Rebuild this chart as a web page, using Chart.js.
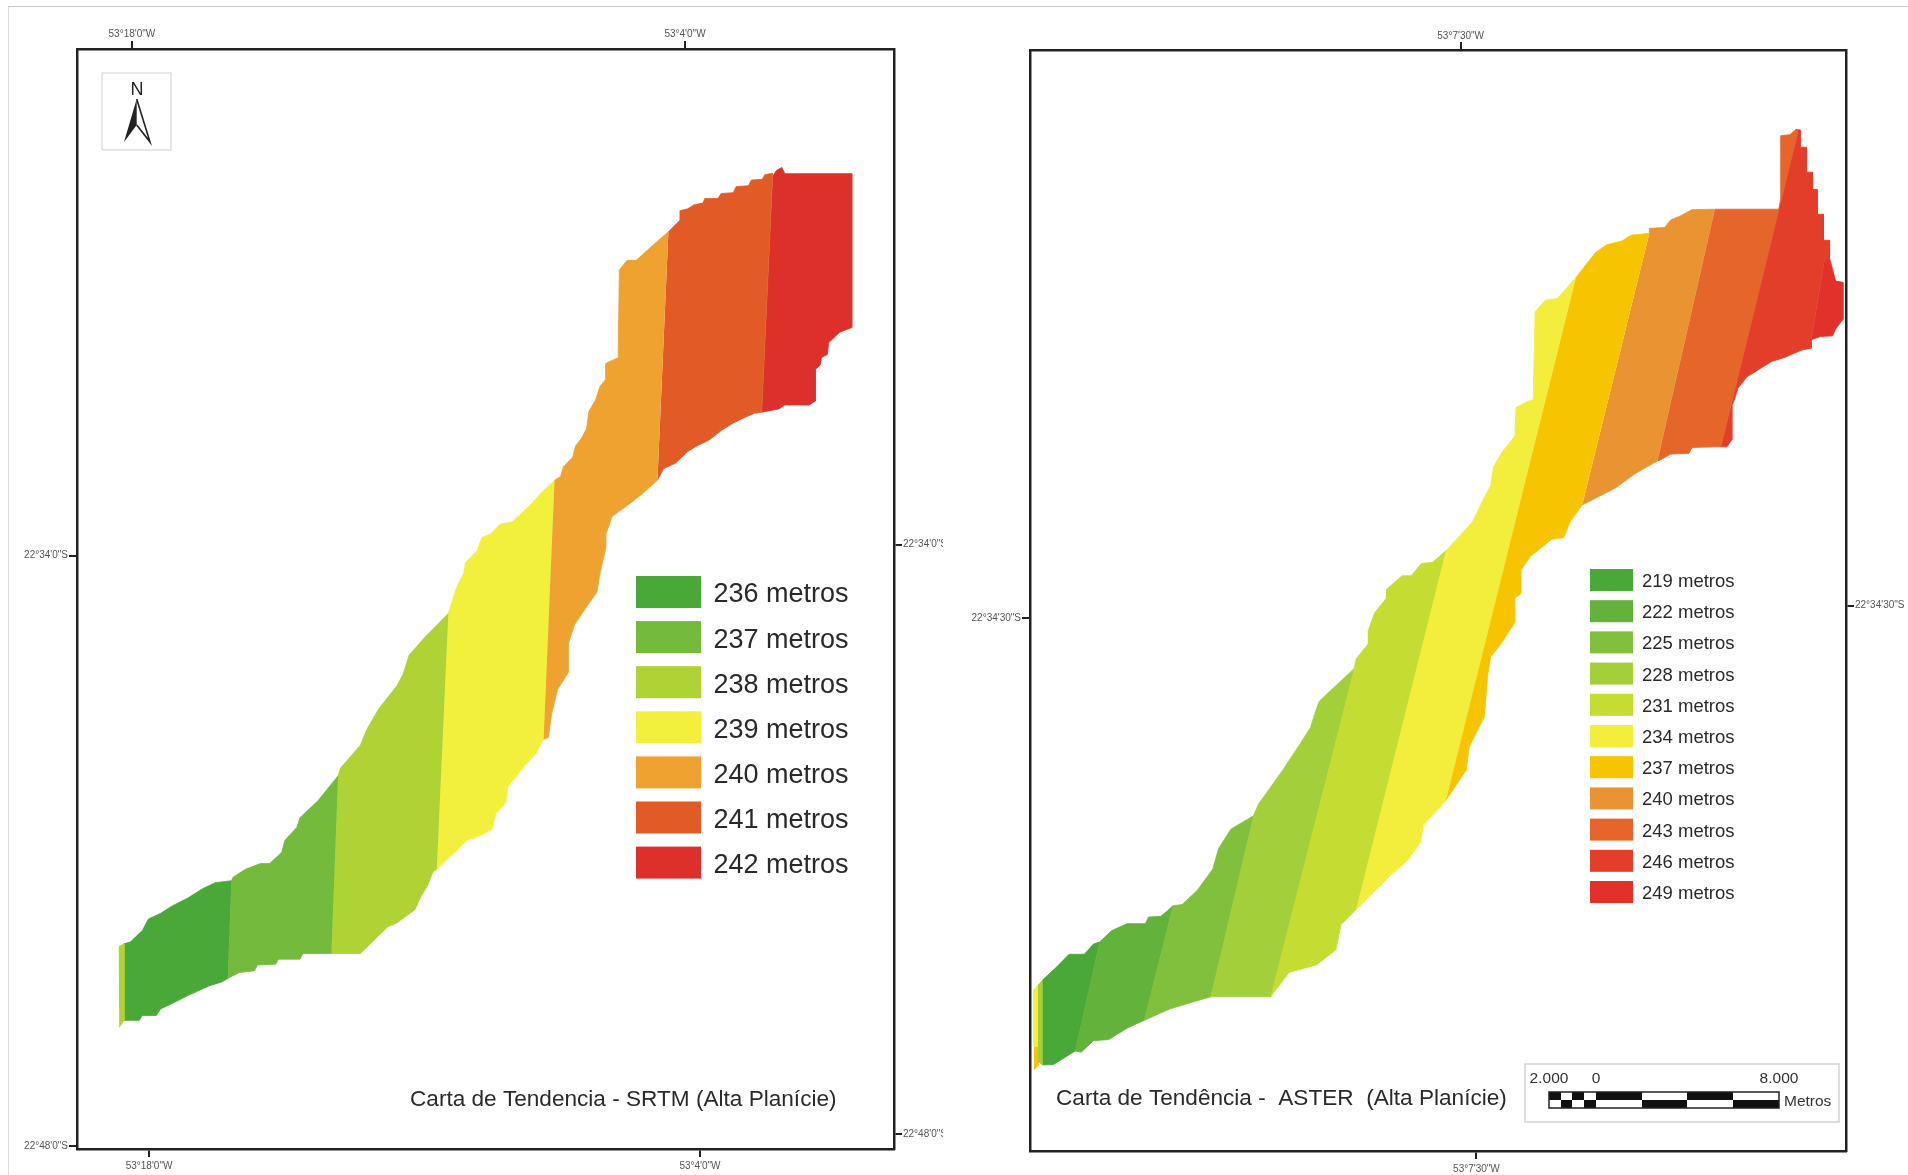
<!DOCTYPE html>
<html lang="pt">
<head>
<meta charset="utf-8">
<title>Carta de Tendencia</title>
<script src="https://cdn.jsdelivr.net/npm/chart.js@4/dist/chart.umd.min.js"></script>
<style>
  body { margin: 0; background: #fff; overflow: hidden; }
  canvas { position: absolute; top: 0; }
  #sheet { position: absolute; left: 8px; top: 6px; right: 0; bottom: 0; border-top: 1px solid #c8c8c8; border-left: 1px solid #dcdcdc; }
  #srtmChart { left: 0; }
  #asterChart { left: 943px; }
</style>
</head>
<body>
<div id="sheet"></div>
<canvas id="srtmChart" width="943" height="1175"></canvas>
<canvas id="asterChart" width="965" height="1175"></canvas>
<script>
"use strict";

// SRTM map: one outline per elevation class, in map grid units
const srtm236 = [[190.2,724],[176.8,725.6],[166.8,730.4],[154.4,738.2],[141.9,744.5],[132,750.8],[122,755.5],[117,765],[107,774.4],[102,775.9],[102,838.8],[114.5,838.8],[117,834.8],[128.5,834.8],[132,829.4],[142,824.7],[154.4,818.4],[171.8,810.5],[181.8,807.4],[187.2,804.3]];
const srtm237 = [[277.9,637.6],[261.5,658],[246.5,672.2],[244,680],[234,691],[231.6,700.5],[221.6,709.9],[214,709.9],[201.7,714.6],[191.7,721],[190.2,724],[187.2,804.3],[196.7,799.5],[209.2,798],[211.7,793.3],[226.6,792.6],[229,788.5],[246.5,788.5],[249,783.8],[272.4,783.8]];
const srtm238 = [[368.5,504],[361,511.8],[348.6,524.4],[336.2,538.5],[331.2,554.3],[326.2,563.7],[311.3,582.6],[301.3,599.9],[296.3,612.4],[279.9,631.3],[277.9,637.6],[272.4,783.8],[296.3,783.8],[318.7,761.8],[326.2,758.7],[341.1,747.7],[346,736.7],[351,728.8],[356,716.2],[359,714.6]];
const srtm239 = [[455.7,394.7],[445.7,404],[435.8,415],[420.8,429],[410.9,430.8],[403.4,438.7],[396,441.8],[392,452.8],[382.5,462.3],[381,471.7],[376,481],[373.5,488.2],[368.5,504],[359,714.6],[383.5,691],[396,686.3],[404.4,681.6],[407.4,669],[415.8,659.6],[417.3,647],[428.3,632.9],[440.7,618.7],[446.7,607.7]];
const srtm240 = [[549.3,190.3],[540.3,198],[522.9,213.8],[515.4,213.8],[509,221.7],[508,294],[500.5,297.2],[498,298.7],[498,311.3],[493,317.6],[489.5,328.6],[484,338],[482,352.2],[478,360],[473,366.4],[470.6,375.8],[463,383.6],[460.7,391.5],[455.7,394.7],[446.7,607.7],[450.7,606.1],[453.2,587.3],[458.2,566.8],[467.1,552.7],[467.1,529.1],[472.1,513.4],[480.6,500.8],[490.5,486.7],[493,471.7],[498,449.7],[498,438.7],[503,424.5],[518,413.5],[527.9,405.7],[540.3,394.7]];
const srtm241 = [[549.3,190.3],[558.8,180.8],[558.8,173],[565.2,171.4],[570.2,168.2],[577.7,166.7],[579.2,162.9],[590.1,162.9],[592.6,158.8],[602.6,158.2],[605,153.1],[615,152.5],[617.5,147.8],[626.5,147.2],[628.5,143.4],[635,142.1],[626,338.7],[620,339.6],[612.5,342.8],[602.6,347.5],[592.6,353.8],[582.7,361.6],[572.7,366.4],[565.2,371],[555.3,380.5],[545.3,385.2],[540.3,394.7]];
const srtm242 = [[635,144.7],[638,140],[642.5,137.4],[645,142.5],[700,142.5],[700,269],[690,273],[681,281.5],[680,291],[675,294],[674,300],[670,303.5],[670,329.5],[665,332.7],[645,332.7],[640,336],[626,338.7]];
const srtmEdge = [[97.6,778.2],[102,775.9],[102,838.8],[98,844.5]];

const srtmLabels = ["236 metros", "237 metros", "238 metros", "239 metros", "240 metros", "241 metros", "242 metros"];
const srtmColors = ["#4aa838", "#73ba3d", "#afd235", "#f2f03c", "#efa22f", "#e25a26", "#de302b"];
const srtmLonTicks = [18, 4];
const srtmLatTicks = [34, 48];

// ASTER map
const aster219 = [[903.7,774.4],[898.7,776],[891.1,784.5],[878.6,784.5],[868.5,794.8],[857,805.5],[857,875.5],[866,875],[883.6,864]];
const aster222 = [[964,744.5],[959,749.2],[953.9,753.3],[943.9,753.9],[941.3,759.3],[926.3,759.3],[913.7,765],[903.7,774.4],[883.6,864],[888.6,865],[898.7,855.5],[911.2,854.6],[926.3,845.2],[940.3,838.8]];
const aster225 = [[1030.2,670.6],[1011.6,681.6],[1001.6,697.3],[996.6,714.6],[984,731.9],[971.5,743.6],[964,744.5],[940.3,838.8],[961.4,829.4],[979,824.1],[995,819.4]];
const aster228 = [[1113,549.5],[1084.4,576.3],[1081.9,582.6],[1076.9,598.3],[1066.8,614],[1054.3,632.9],[1044.3,647],[1034.2,661.2],[1030.2,670.6],[995,819.4],[1044.3,819.4]];
const aster231 = [[1188.3,452.8],[1177.3,462.3],[1168.2,463.2],[1159.7,473.3],[1152.2,473.3],[1139.6,484.3],[1139.6,491.4],[1129.6,504],[1124.6,518.1],[1124.6,529.1],[1114.5,541.7],[1113,549.5],[1044.3,819.4],[1059.3,799.5],[1081.9,793.2],[1098,780.7],[1102,760.2],[1114.5,747.7]];
const aster234 = [[1295.3,228],[1280,245.3],[1270,246.9],[1261.6,256.3],[1260,328.6],[1255,330.2],[1246,334.9],[1245,358.5],[1235,371],[1227.5,383.6],[1225,399.4],[1220,408.8],[1210,429.2],[1188.3,452.8],[1114.5,747.7],[1143.1,719.4],[1157.2,706.8],[1167.2,692.6],[1169.8,678.5],[1188.3,658]];
const aster237 = [[1355.5,191.8],[1340.4,193.4],[1333,198.1],[1320.4,201.3],[1311.3,207.5],[1295.3,228],[1188.3,658],[1205,632.9],[1207.4,614],[1220,588.9],[1222.5,555.8],[1225,540.1],[1232.5,530.7],[1245,511.8],[1245,491.4],[1250,488.2],[1250,468.6],[1257.6,457.5],[1275.2,443.4],[1285.2,441.8],[1290.2,429.2],[1300.3,415.1]];
const aster240 = [[1355.5,191.8],[1355.5,187.7],[1368,187.1],[1373,180.8],[1380.6,177.7],[1390.6,172.3],[1409.2,172],[1362,378.9],[1343,389.9],[1328,400.9],[1312.8,408.8],[1300.3,415.1]];
const aster243 = [[1409.2,172],[1462,172],[1463.4,163.5],[1463.4,111.6],[1471,110.7],[1476,106.3],[1477.5,108.5],[1414.2,367.3],[1408.2,367.3],[1390.6,367.9],[1388.1,372.6],[1373,373.3],[1363,378.9],[1362,378.9]];
const aster246 = [[1476,106.3],[1479.5,106.9],[1479.5,121],[1484.5,121],[1484.5,141.5],[1489.5,141.5],[1489.5,155.7],[1493.5,155.7],[1493.5,176.1],[1498.6,176.1],[1498.6,197.5],[1503.6,197.5],[1503.6,212.3],[1499.6,212.3],[1488.5,279.2],[1488.5,286.2],[1481,287.7],[1473.5,290.9],[1466,294],[1456,297.2],[1448.4,301.9],[1435.8,309.7],[1428.3,319.2],[1424.8,330.2],[1423.3,333.3],[1423.3,361.6],[1419.2,367.3],[1414.2,367.3],[1477.5,108.5]];
const aster249 = [[1499.6,212.3],[1503.6,212.3],[1508.6,231.1],[1514.6,232.1],[1514.6,262.6],[1508.6,270.4],[1506,276.1],[1496,276.7],[1488.5,279.2]];
const asterEdgeGreen = [[857,805.5],[853.5,809.5],[853.5,873],[857,875.5]];
const asterEdgeYellow = [[853.5,809.5],[849.8,813.6],[849.8,860],[853.5,860]];
const asterEdgeOrange = [[849.8,860],[853.5,860],[853.5,875.5],[849.8,879.6]];

const asterLabels = ["219 metros", "222 metros", "225 metros", "228 metros", "231 metros", "234 metros", "237 metros", "240 metros", "243 metros", "246 metros", "249 metros"];
const asterColors = ["#4aa838", "#63b23b", "#80c03d", "#a3cf3b", "#c5dd33", "#f2ee3b", "#f6c400", "#ea9333", "#e5652b", "#e23e29", "#e2302b"];
const asterLonTicks = [7.5];
const asterLatTicks = [34.5];

const scaleBarLabels = ["2.000", "0", "8.000"];

const FONT = '"Liberation Sans", Arial, sans-serif';
const FRAME = "#222";

const toPoints = (outline) => outline.map(([x, y]) => ({ x, y }));

const bandDataset = (outline, color) => ({
  data: toPoints(outline),
  xAxisID: "gridX",
  yAxisID: "gridY",
  showLine: true,
  fill: "shape",
  backgroundColor: color,
  borderColor: color,
  borderWidth: 0.8,
  tension: 0,
  pointRadius: 0,
  clip: false
});

// degrees + decimal minutes as the map grid label
const geoLabel = (deg, value, side) => {
  const min = Math.floor(value);
  const sec = Math.round((value - min) * 60);
  return deg + "°" + min + "'" + sec + '"' + side;
};

const edgeAxis = (axis, position, range, size, ticks, deg, side, padding) => ({
  type: "linear",
  axis,
  position,
  reverse: true,
  min: range[0],
  max: range[1],
  afterFit: (scale) => {
    if (axis === "x") scale.height = size; else scale.width = size;
  },
  afterBuildTicks: (scale) => { scale.ticks = ticks.map((value) => ({ value })); },
  border: { display: true, color: FRAME, width: 2.5 },
  grid: { drawOnChartArea: false, drawTicks: true, tickLength: 8, color: FRAME, lineWidth: 2 },
  ticks: {
    autoSkip: false,
    maxRotation: 0,
    minRotation: 0,
    padding,
    color: "#555",
    font: { family: FONT, size: 10 },
    callback: (value) => geoLabel(deg, value, side)
  }
});

const gridAxis = (axis, min, max, reverse) => ({ type: "linear", axis, display: false, min, max, reverse });

const drawLegend = (ctx, labels, colors, o) => {
  labels.forEach((label, i) => {
    const top = o.y + i * o.pitch;
    ctx.fillStyle = colors[i];
    ctx.fillRect(o.x, top, o.w, o.h);
    ctx.fillStyle = "#2a2a2a";
    ctx.font = o.size + "px " + FONT;
    ctx.textAlign = "left";
    ctx.textBaseline = "middle";
    ctx.fillText(label, o.textX, top + o.h / 2 + o.dy);
  });
};

const drawCaption = (ctx, text, x, y, size) => {
  ctx.fillStyle = "#2a2a2a";
  ctx.font = size + "px " + FONT;
  ctx.textAlign = "left";
  ctx.textBaseline = "middle";
  ctx.fillText(text, x, y);
};

const drawNorth = (ctx) => {
  ctx.strokeStyle = "#cfcfcf";
  ctx.lineWidth = 1;
  ctx.strokeRect(102, 73, 69, 77);
  ctx.fillStyle = "#222";
  ctx.font = "18px " + FONT;
  ctx.textAlign = "center";
  ctx.textBaseline = "middle";
  ctx.fillText("N", 137, 90);
  ctx.beginPath();
  ctx.moveTo(136.7, 99);
  ctx.lineTo(124, 142);
  ctx.lineTo(136.7, 125);
  ctx.closePath();
  ctx.fill();
  ctx.strokeStyle = "#222";
  ctx.lineWidth = 1.6;
  ctx.beginPath();
  ctx.moveTo(136.7, 99);
  ctx.lineTo(150, 142);
  ctx.lineTo(136.7, 125);
  ctx.stroke();
};

const drawScaleBar = (ctx) => {
  const ox = -943;
  ctx.strokeStyle = "#d4d4d4";
  ctx.lineWidth = 1.5;
  ctx.strokeRect(1525 + ox, 1064, 314, 58);
  ctx.fillStyle = "#333";
  ctx.font = "15.5px " + FONT;
  ctx.textBaseline = "middle";
  ctx.textAlign = "center";
  ctx.fillText(scaleBarLabels[0], 1549 + ox, 1079);
  ctx.fillText(scaleBarLabels[1], 1596 + ox, 1079);
  ctx.fillText(scaleBarLabels[2], 1779 + ox, 1079);
  ctx.textAlign = "left";
  ctx.fillText("Metros", 1784 + ox, 1102);
  const cuts = [1549, 1561, 1572, 1584, 1596, 1642, 1687, 1733, 1779];
  for (let i = 0; i < cuts.length - 1; i++) {
    const w = cuts[i + 1] - cuts[i];
    ctx.fillStyle = i % 2 === 0 ? "#111" : "#fff";
    ctx.fillRect(cuts[i] + ox, 1092, w, 8);
    ctx.fillStyle = i % 2 === 0 ? "#fff" : "#111";
    ctx.fillRect(cuts[i] + ox, 1100, w, 8);
  }
  ctx.strokeStyle = "#222";
  ctx.lineWidth = 1.5;
  ctx.strokeRect(1549 + ox, 1092, 230, 16);
};

const srtmDecor = {
  id: "srtmDecor",
  afterDraw: (chart) => {
    const ctx = chart.ctx;
    ctx.save();
    drawNorth(ctx);
    drawLegend(ctx, srtmLabels, srtmColors, { x: 636, y: 576, w: 65, h: 32, pitch: 45.1, textX: 713.5, size: 27, dy: 3 });
    drawCaption(ctx, "Carta de Tendencia - SRTM (Alta Planície)", 410, 1100, 22.6);
    ctx.restore();
  }
};

const asterDecor = {
  id: "asterDecor",
  afterDraw: (chart) => {
    const ctx = chart.ctx;
    ctx.save();
    drawLegend(ctx, asterLabels, asterColors, { x: 647, y: 569, w: 43, h: 22, pitch: 31.2, textX: 699, size: 18.5, dy: 2 });
    drawCaption(ctx, "Carta de Tendência -  ASTER  (Alta Planície)", 113, 1099, 22.6);
    drawScaleBar(ctx);
    ctx.restore();
  }
};

const baseOptions = {
  responsive: false,
  animation: false,
  layout: { padding: 0 },
  plugins: { legend: { display: false }, tooltip: { enabled: false } }
};

const srtmBands = [srtmEdge, srtm236, srtm237, srtm238, srtm239, srtm240, srtm241, srtm242];
const srtmBandColors = [srtmColors[2]].concat(srtmColors);

new Chart(document.getElementById("srtmChart"), {
  type: "scatter",
  data: { datasets: srtmBands.map((band, i) => bandDataset(band, srtmBandColors[i])) },
  options: {
    ...baseOptions,
    scales: {
      gridX: gridAxis("x", 63.3, 734.7, false),
      gridY: gridAxis("y", 40, 944.6, true),
      lonBottom: edgeAxis("x", "bottom", [19.83, -0.93], 26, srtmLonTicks, 53, "W", 3),
      lonTop: edgeAxis("x", "top", [19.39, -1.29], 49, srtmLonTicks, 53, "W", 1),
      latLeft: edgeAxis("y", "left", [21.986, 48.066], 77, srtmLatTicks, 22, "S", 1),
      latRight: edgeAxis("y", "right", [22.226, 48.356], 49, srtmLatTicks, 22, "S", 1)
    }
  },
  plugins: [srtmDecor]
});

const asterBands = [asterEdgeGreen, asterEdgeYellow, asterEdgeOrange, aster219, aster222, aster225, aster228, aster231, aster234, aster237, aster240, aster243, aster246, aster249];
const asterBandColors = [asterColors[3], asterColors[5], asterColors[6]].concat(asterColors);

new Chart(document.getElementById("asterChart"), {
  type: "scatter",
  data: { datasets: asterBands.map((band, i) => bandDataset(band, asterBandColors[i])) },
  options: {
    ...baseOptions,
    scales: {
      gridX: gridAxis("x", 846.5, 1517.1, false),
      gridY: gridAxis("y", 41.1, 946.2, true),
      lonBottom: edgeAxis("x", "bottom", [18.83, -1.88], 24, asterLonTicks, 53, "W", 4),
      lonTop: edgeAxis("x", "top", [18.43, -2.28], 50, asterLonTicks, 53, "W", 0),
      latLeft: edgeAxis("y", "left", [21.014, 47.164], 87, asterLatTicks, 22, "S", 1),
      latRight: edgeAxis("y", "right", [21.304, 47.454], 62, asterLatTicks, 22, "S", 1)
    }
  },
  plugins: [asterDecor]
});
</script>
</body>
</html>
